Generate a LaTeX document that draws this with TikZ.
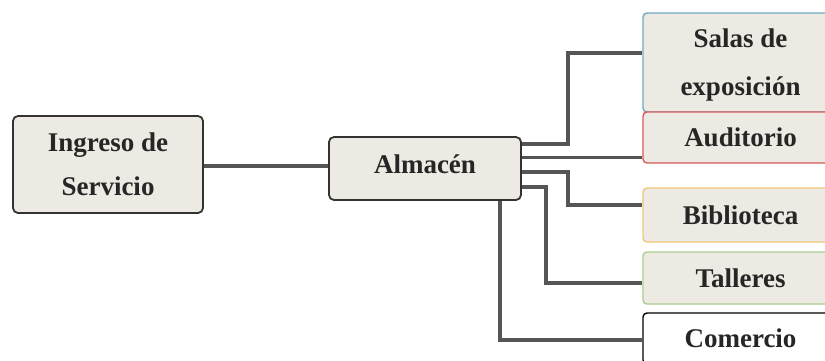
\documentclass[tikz,border=0pt]{standalone}
\usepackage{fontspec}
\setmainfont{Liberation Serif}
\definecolor{boxfill}{RGB}{236,234,226}
\definecolor{linegray}{RGB}{85,85,85}
\definecolor{edgeblue}{RGB}{110,170,195}
\definecolor{edgered}{RGB}{215,90,90}
\definecolor{edgeyellow}{RGB}{240,200,120}
\definecolor{edgegreen}{RGB}{170,205,145}
\tikzset{
  mainbox/.style={draw=black!80,line width=1.8pt,fill=boxfill,rounded corners=5pt,
    minimum width=190pt,align=center,text=black!85,
    font=\fontsize{27}{44}\selectfont\bfseries},
  roombox/.style={line width=1.4pt,fill=boxfill,rounded corners=4pt,
    minimum width=195pt,align=center,text=black!85,
    font=\fontsize{27}{48}\selectfont\bfseries},
  conn/.style={linegray,line width=4pt},
  thinconn/.style={linegray,line width=2.4pt}
}
\begin{document}
\begin{tikzpicture}[x=1pt,y=-1pt]
  \useasboundingbox[fill=white] (0,0) rectangle (825,360);
  % lines first
  \coordinate (c1) at (568,53);
  \coordinate (c3) at (568,205);
  \coordinate (c4) at (546,283);

  \node[mainbox,minimum height=97pt,text depth=0pt] (ing) at (108,164.5) {Ingreso de\\Servicio};
  \node[mainbox,minimum height=63pt,minimum width=192pt,text depth=8pt] (alm) at (425,168.5) {Almacén};

  \node[roombox,draw=edgeblue,minimum height=99pt,text depth=0pt] (salas) at (740.5,62.5) {Salas de\\exposición};
  \node[roombox,draw=edgered,minimum height=51pt] (aud) at (740.5,137.5) {Auditorio};
  \node[roombox,draw=edgeyellow,minimum height=54pt] (bib) at (740.5,215) {Biblioteca};
  \node[roombox,draw=edgegreen,minimum height=52pt] (tal) at (740.5,278) {Talleres};
  \node[roombox,draw=black,fill=white,minimum height=51pt] (com) at (740.5,338.5) {Comercio};

  \draw[conn,line width=4.6pt] (ing.east |- 0,166) -- (alm.west |- 0,166);
  \draw[conn] (alm.east |- 0,144) -| (c1) -- (salas.west |- c1);
  \draw[thinconn] (alm.east |- 0,157.5) -- (aud.west |- 0,157.5);
  \draw[conn] (alm.east |- 0,172) -| (c3) -- (bib.west |- c3);
  \draw[conn] (alm.east |- 0,187) -| (c4) -- (tal.west |- c4);
  \draw[conn] (alm.south -| 500,0) |- (com.west |- 0,340);
\end{tikzpicture}
\end{document}
